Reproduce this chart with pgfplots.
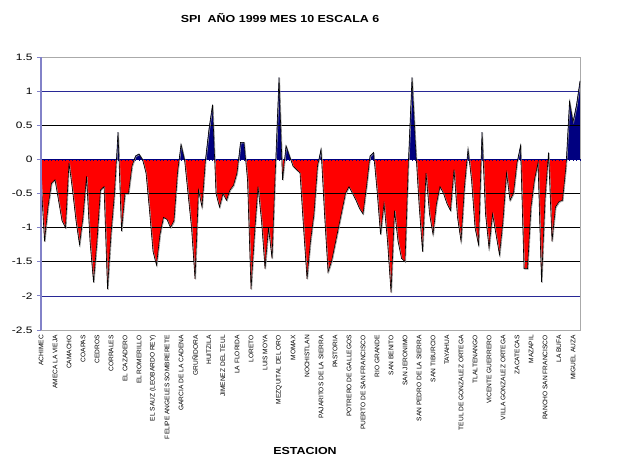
\documentclass[border=0pt]{standalone}
\usepackage{fontspec}
\setmainfont{Liberation Sans}
\newfontfamily\wide[FakeStretch=1.28]{Liberation Sans}
\newfontfamily\widet[FakeStretch=1.22]{Liberation Sans}
\usepackage{pgfplots}
\usepackage{pgfplotstable}
\pgfplotsset{compat=1.18}
\definecolor{navyc}{RGB}{0,0,128}
\definecolor{gridblue}{RGB}{40,40,150}
\definecolor{axblue}{RGB}{130,130,200}
\definecolor{bordergray}{RGB}{170,170,170}
\pgfplotstableread{
i v
0 -0.3
1 -1.2
2 -0.7
3 -0.35
4 -0.3
5 -0.6
6 -0.9
7 -1.0
8 -0.05
9 -0.45
10 -0.9
11 -1.25
12 -0.85
13 -0.25
14 -1.2
15 -1.8
16 -1.2
17 -0.45
18 -0.4
19 -1.9
20 -1.1
21 -0.5
22 0.4
23 -1.05
24 -0.5
25 -0.5
26 -0.1
27 0.05
28 0.08
29 0.0
30 -0.2
31 -0.75
32 -1.35
33 -1.55
34 -1.1
35 -0.85
36 -0.88
37 -1.0
38 -0.9
39 -0.2
40 0.22
41 0.0
42 -0.5
43 -1.0
44 -1.75
45 -0.45
46 -0.7
47 0.0
48 0.45
49 0.8
50 -0.5
51 -0.7
52 -0.5
53 -0.6
54 -0.45
55 -0.38
56 -0.2
57 0.25
58 0.25
59 -0.3
60 -1.9
61 -1.1
62 -0.4
63 -0.9
64 -1.6
65 -1.0
66 -1.45
67 -0.1
68 1.2
69 -0.3
70 0.2
71 0.05
72 -0.1
73 -0.15
74 -0.2
75 -1.0
76 -1.75
77 -1.2
78 -0.8
79 -0.1
80 0.15
81 -0.8
82 -1.65
83 -1.5
84 -1.25
85 -1.0
86 -0.75
87 -0.5
88 -0.4
89 -0.5
90 -0.6
91 -0.72
92 -0.8
93 -0.4
94 0.05
95 0.1
96 -0.45
97 -1.1
98 -0.65
99 -1.2
100 -1.95
101 -0.75
102 -1.2
103 -1.45
104 -1.5
105 0.0
106 1.2
107 0.2
108 -0.65
109 -1.35
110 -0.2
111 -0.8
112 -1.1
113 -0.65
114 -0.4
115 -0.5
116 -0.65
117 -0.75
118 -0.15
119 -0.85
120 -1.2
121 -0.4
122 0.15
123 -0.3
124 -1.0
125 -1.25
126 0.4
127 -0.8
128 -1.3
129 -0.8
130 -1.1
131 -1.4
132 -0.9
133 -0.2
134 -0.6
135 -0.5
136 -0.05
137 0.2
138 -1.6
139 -1.6
140 -0.7
141 -0.3
142 -0.05
143 -1.8
144 -0.6
145 0.1
146 -1.2
147 -0.7
148 -0.62
149 -0.6
150 -0.1
151 0.85
152 0.55
153 0.8
154 1.15
}\spi
\pgfplotsset{fillax/.style={scale only axis, width=539pt, xmin=0, xmax=154, hide axis, clip=true, anchor=south west}}
\begin{document}
\begin{tikzpicture}
\path[use as bounding box] (0pt,0pt) rectangle (632pt,459pt);
% negative part (red)
\begin{axis}[fillax, at={(41pt,129pt)}, height=170.625pt, ymin=-2.5, ymax=0]
\addplot[fill=red, draw=none] table[x=i,y=v]{\spi} \closedcycle;
\end{axis}
% positive part (navy)
\begin{axis}[fillax, at={(41pt,299.625pt)}, height=102.375pt, ymin=0, ymax=1.5]
\addplot[fill=navyc, draw=none] table[x=i,y=v]{\spi} \closedcycle;
\end{axis}
\begin{axis}[
  at={(41pt,129pt)}, anchor=south west,
  scale only axis, width=539pt, height=273pt,
  xmin=0, xmax=154, ymin=-2.5, ymax=1.5,
  axis line style={bordergray},
  ytick={-2.5,-2,-1.5,-1,-0.5,0,0.5,1,1.5},
  yticklabels={-2.5,-2,-1.5,-1,-0.5,0,0.5,1,1.5},
  yticklabel style={font=\wide\fontsize{9.3}{10}\selectfont, xshift=-1pt},
  ytick pos=left, tick align=outside,
  major tick length=4pt,
  ytick style={axblue, line width=0.8pt},
  xtick={0,4,...,152},
  xticklabels={ACHIMEC,AMECA LA VIEJA,CAMACHO,COAPAS,CEDROS,CORRALES,EL CAZADERO,EL ROMERILLO,EL SAUZ (LEOBARDO REY),FELIPE ANGELES SOMBRERETE,GARCIA DE LA CADENA,GRUÑIDORA,HUITZILA,JIMENEZ DEL TEUL,LA FLORIDA,LORETO,LUIS MOYA,MEZQUITAL DEL ORO,MOMAX,NOCHISTLAN,PAJARITOS DE LA SIERRA,PASTORIA,POTRERO DE GALLEGOS,PUERTO DE SAN FRANCISCO,RIO GRANDE,SAN BENITO,SAN JERONIMO,SAN PEDRO DE LA SIERRA,SAN TIBURCIO,TAYAHUA,TEUL DE GONZALEZ ORTEGA,TLALTENANGO,VICENTE GUERRERO,VILLA GONZALEZ ORTEGA,ZACATECAS,MAZAPIL,RANCHO SAN FRANCISCO,LA BUFA,MIGUEL AUZA},
  xticklabel style={rotate=90, anchor=east, font=\fontsize{6.6}{7}\selectfont, inner sep=1pt},
  xtick style={draw=none},
  ymajorgrids, major grid style={black, line width=0.6pt},
  clip=false,
]
\draw[gridblue, line width=0.6pt] (axis cs:0,1) -- (axis cs:154,1);
\draw[gridblue, line width=0.6pt] (axis cs:0,-2) -- (axis cs:154,-2);
\draw[navyc, line width=0.8pt] (axis cs:0,0) -- (axis cs:154,0);
\pgfplotsinvokeforeach{0,...,154}{\draw[navyc, line width=0.5pt] (axis cs:#1,0) -- ++(0pt,-2pt);}
\addplot[black!40, line width=0.6pt, xshift=0.7pt, yshift=-0.7pt] table[x=i,y=v]{\spi};
\addplot[black, line width=0.6pt] table[x=i,y=v]{\spi};
\draw[axblue, line width=1.2pt] (rel axis cs:0,0) -- (rel axis cs:0,1);
\end{axis}
\node[font=\widet\bfseries\fontsize{10.2}{12}\selectfont] at (280pt,441pt) {SPI\ \ AÑO 1999 MES 10 ESCALA 6};
\node[font=\widet\bfseries\fontsize{10.2}{12}\selectfont] at (305pt,8pt) {ESTACION};
\end{tikzpicture}
\end{document}
